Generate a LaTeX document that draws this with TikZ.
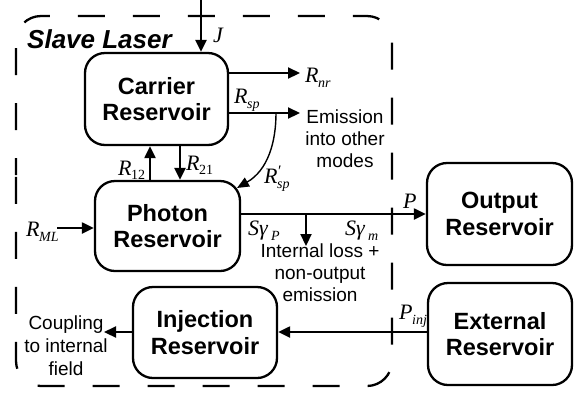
\documentclass[tikz,border=0pt]{standalone}
\usepackage{fontspec}
\setmainfont{Liberation Serif}
\setsansfont{Liberation Sans}
\usetikzlibrary{arrows.meta}
\newcommand{\mylbl}[2]{{\fontsize{22}{22}\selectfont\itshape #1\kern-0.5pt\raisebox{-5pt}{\fontsize{14}{14}\selectfont #2}}}
\newcommand{\mylblup}[2]{{\fontsize{22}{22}\selectfont\itshape #1\kern-0.5pt\raisebox{-4pt}{\fontsize{14}{14}\selectfont\upshape #2}}}
\begin{document}
\begin{tikzpicture}[x=1pt,y=-1pt,
  box/.style={draw, line width=2.3pt, rounded corners=20pt, align=center, inner sep=0pt,
    font=\sffamily\bfseries\fontsize{23.5}{26.5}\selectfont},
  arr/.style={line width=2.2pt, -{Triangle[length=12pt,width=11pt]}},
  txt/.style={align=center, inner sep=0pt, font=\sffamily\fontsize{19}{22}\selectfont},
  lab/.style={anchor=base west, inner sep=0pt}]
\useasboundingbox (0,0) rectangle (576,392);
% dashed slave laser border
\draw[line width=2.3pt, dash pattern=on 27pt off 28pt, dash phase=10pt, rounded corners=25pt]
  (16,200) -- (16,16) -- (392,16) -- (392,386) -- (16,386) -- cycle;
\node[anchor=base west, inner sep=0pt, font=\sffamily\bfseries\itshape\fontsize{26}{26}\selectfont] (title) at (27,48) {Slave Laser};
% boxes
\node[box, minimum width=143pt, minimum height=92pt] (car) at (156.5,99) {Carrier\\Reservoir};
\node[box, minimum width=145pt, minimum height=90pt] (pho) at (167.5,226) {Photon\\Reservoir};
\node[box, minimum width=145pt, minimum height=102pt] (out) at (499.5,214) {Output\\Reservoir};
\node[box, minimum width=144pt, minimum height=102pt] (ext) at (500,334) {External\\Reservoir};
\node[box, minimum width=144pt, minimum height=91pt] (inj) at (205,332.5) {Injection\\Reservoir};
% coordinates
\coordinate (jTop) at (201,0);
\coordinate (rnrEnd) at (300,73);
\coordinate (rspEnd) at (300,113);
\coordinate (rspBranch) at (276,113);
\coordinate (rspTip) at (237,188);
\coordinate (r12x) at (150,0);
\coordinate (r21x) at (180,0);
\coordinate (outY) at (0,214);
\coordinate (lossTop) at (306,214);
\coordinate (lossEnd) at (306,246);
\coordinate (injY) at (0,332);
\coordinate (cplEnd) at (104,332);
\coordinate (rmlStart) at (57,228);
% connectors
\draw[arr] (jTop) -- (jTop |- car.north);
\draw[arr] (rnrEnd -| car.east) -- (rnrEnd);
\draw[arr] (rspEnd -| car.east) -- (rspEnd);
\draw[line width=1.4pt, -{Triangle[length=12pt,width=10pt]}] (rspBranch) .. controls (276,142) and (268,170) .. (rspTip);
\draw[arr] (r12x |- pho.north) -- (r12x |- car.south);
\draw[arr] (r21x |- car.south) -- (r21x |- pho.north);
\draw[arr] (rmlStart) -- (rmlStart -| pho.west);
\draw[arr] (outY -| pho.east) -- (outY -| out.west);
\draw[arr] (lossTop) -- (lossEnd);
\draw[arr] (injY -| ext.west) -- (injY -| inj.east);
\draw[arr] (injY -| inj.west) -- (cplEnd);
% text
\node[txt] (emi) at (345,138.5) {Emission\\into other\\modes};
\node[txt] (loss) at (320,273) {Internal loss +\\non-output\\emission};
\node[txt, font=\sffamily\fontsize{19}{23}\selectfont] (cpl) at (66,346) {Coupling\\to internal\\field};
% labels
\node[lab] (lj) at (213,42) {\fontsize{22}{22}\selectfont\itshape J};
\node[lab] (lrnr) at (305,82) {\mylbl{R}{nr}};
\node[lab] (lrsp) at (234,103) {\mylbl{R}{sp}};
\node[lab] (lrsp2) at (264,183) {{\fontsize{22}{22}\selectfont\itshape R\kern-0.5pt\rlap{\raisebox{7pt}{\fontsize{16}{16}\selectfont ′}}\raisebox{-5pt}{\fontsize{14}{14}\selectfont sp}}};
\node[lab] (lr12) at (118,175) {\mylblup{R}{12}};
\node[lab] (lr21) at (186,170) {\mylblup{R}{21}};
\node[lab] (lrml) at (26,236) {\mylbl{R}{ML}};
\node[lab] (lp) at (403,208) {\fontsize{22}{22}\selectfont\itshape P};
\node[lab] (lsgp) at (248,235) {\mylbl{Sγ\,}{P}};
\node[lab] (lsgm) at (345,235) {\mylbl{Sγ\,}{m}};
\node[lab] (lpinj) at (399,319) {\mylbl{P}{inj}};
\end{tikzpicture}
\end{document}
